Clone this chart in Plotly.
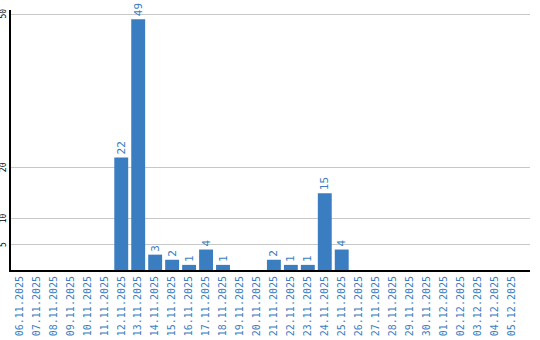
import plotly.graph_objects as go

dates = ["06.11.2025","07.11.2025","08.11.2025","09.11.2025","10.11.2025","11.11.2025",
         "12.11.2025","13.11.2025","14.11.2025","15.11.2025","16.11.2025","17.11.2025",
         "18.11.2025","19.11.2025","20.11.2025","21.11.2025","22.11.2025","23.11.2025",
         "24.11.2025","25.11.2025","26.11.2025","27.11.2025","28.11.2025","29.11.2025",
         "30.11.2025","01.12.2025","02.12.2025","03.12.2025","04.12.2025","05.12.2025"]
values = [0,0,0,0,0,0,22,49,3,2,1,4,1,0,0,2,1,1,15,4,0,0,0,0,0,0,0,0,0,0]
ytick_vals = [5, 10, 20, 50]

blue = "#3a7dc1"
labels = [str(v) if v else "" for v in values]

fig = go.Figure(go.Bar(
    x=list(range(len(dates))), y=values, marker_color=blue, marker_line_width=0,
    text=labels, textposition="outside", textangle=-90, cliponaxis=False,
    textfont=dict(family="DejaVu Sans Mono", size=11, color=blue),
))
fig.update_layout(
    width=540, height=340, margin=dict(l=11, r=10, t=10, b=70),
    paper_bgcolor="white", plot_bgcolor="white", showlegend=False, bargap=0.18,
)
for v in ytick_vals:
    fig.add_annotation(
        x=0, xref="paper", xanchor="right", xshift=-1, y=v, yref="y", yanchor="middle",
        text=str(v), textangle=-90, showarrow=False,
        font=dict(family="DejaVu Sans Mono", size=8, color="black"),
    )
fig.update_xaxes(
    tickmode="array", tickvals=list(range(len(dates))), ticktext=dates,
    tickangle=-90, range=[-0.5, 30.1], showgrid=False, showline=True,
    linecolor="black", linewidth=2, ticks="", automargin=False,
    tickfont=dict(family="DejaVu Sans Mono", size=10, color=blue),
)
fig.update_yaxes(
    tickmode="array", tickvals=ytick_vals, showticklabels=False,
    range=[0, 50.8], showgrid=True, gridcolor="#c8c8c8", gridwidth=1,
    showline=True, linecolor="black", linewidth=2, zeroline=False, ticks="",
    automargin=False,
)
fig.write_html("out.html")
